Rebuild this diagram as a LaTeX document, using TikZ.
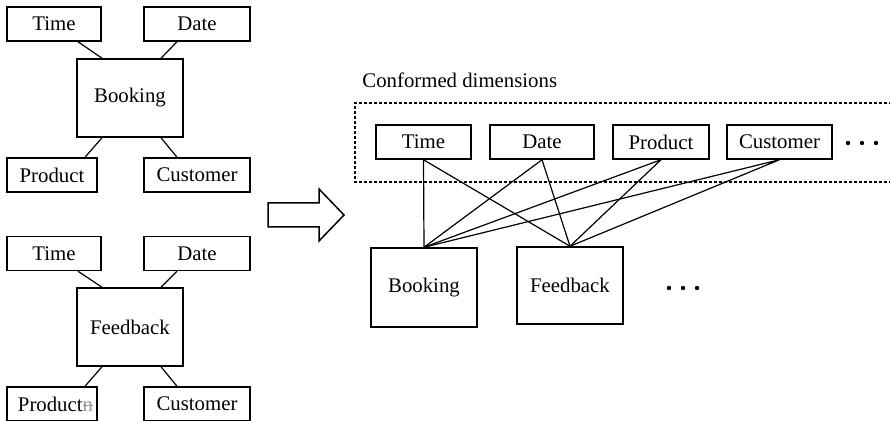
\documentclass[tikz,border=0pt]{standalone}
\usepackage{fontspec}
\setmainfont{Liberation Serif}
\usepackage{tikz}
\usetikzlibrary{positioning}
\tikzset{
  dimbox/.style={draw, line width=0.75pt, inner sep=0pt, minimum height=17pt},
  factbox/.style={draw, line width=0.75pt, inner sep=0pt},
  link/.style={line width=0.6pt},
  groupframe/.style={line width=0.6pt, dash pattern=on 1.5pt off 1pt},
}
\newcommand\crossedn{{\color{black!40}\rlap{n}\rule[0.55ex]{0.5em}{0.5pt}}}

\begin{document}
\begin{tikzpicture}[x=0.5pt, y=-0.5pt, font=\fontsize{10.4pt}{12.5pt}\selectfont]
\useasboundingbox (0,0) rectangle (890,421);

% star schema: Booking
\node[dimbox, minimum width=47pt] (btime) at (54,24) {Time};
\node[dimbox, minimum width=53pt] (bdate) at (197,24) {Date};
\node[factbox, minimum width=53pt, minimum height=39pt] (bfact) at (130,98) {Booking};
\node[dimbox, minimum width=45pt] (bprod) at (52,175) {Product};
\node[dimbox, minimum width=53pt] (bcust) at (197,175) {Customer};
\draw[link] ([xshift=12pt]btime.south) -- ([xshift=-14pt]bfact.north);
\draw[link] ([xshift=-10pt]bdate.south) -- ([xshift=15.5pt]bfact.north);
\draw[link] ([xshift=-14pt]bfact.south) -- ([xshift=16.5pt]bprod.north);
\draw[link] ([xshift=15.5pt]bfact.south) -- ([xshift=-10pt]bcust.north);

% star schema: Feedback
\node[dimbox, minimum width=47pt] (ftime) at (54,253.5) {Time};
\node[dimbox, minimum width=53pt] (fdate) at (197,253.5) {Date};
\node[factbox, minimum width=53pt, minimum height=39pt] (ffact) at (130,327) {Feedback};
\node[dimbox, minimum width=45pt] (fprod) at (52,404) {\hspace*{3.5pt}Product\crossedn};
\node[dimbox, minimum width=53pt] (fcust) at (197,404) {Customer};
\draw[link] ([xshift=12pt]ftime.south) -- ([xshift=-14pt]ffact.north);
\draw[link] ([xshift=-10pt]fdate.south) -- ([xshift=15.5pt]ffact.north);
\draw[link] ([xshift=-14pt]ffact.south) -- ([xshift=16.5pt]fprod.north);
\draw[link] ([xshift=15.5pt]ffact.south) -- ([xshift=-10pt]fcust.north);

% block arrow
\draw[line width=0.75pt] (268,203) -- (319,203) -- (319,189) -- (344,215)
  -- (319,241) -- (319,227) -- (268,227) -- cycle;

% conformed dimensions
\node[anchor=base west, inner sep=0pt] (title) at (362,88) {Conformed dimensions};
\draw[groupframe] (892,103) -| (355,182) -- (892,182);
\node[dimbox, minimum width=47.5pt] (rtime) at (423.5,142) {Time};
\node[dimbox, minimum width=52pt] (rdate) at (542,142) {Date};
\node[dimbox, minimum width=48pt] (rprod) at (661,142) {Product};
\node[dimbox, minimum width=52.5pt] (rcust) at (779.5,142) {Customer};
\foreach \dx in {-14,0,14} \fill (862+\dx,143) circle (1.1pt);

\node[factbox, minimum width=53pt, minimum height=39.5pt] (rbook) at (424,287.5) {Booking};
\node[factbox, minimum width=53pt, minimum height=38.5pt] (rfeed) at (570,285.5) {Feedback};
\foreach \dx in {-14,0,14} \fill (683+\dx,288) circle (1.1pt);

\foreach \d in {rtime,rdate,rprod,rcust}
  \draw[link] (\d.south) -- (rbook.north) (\d.south) -- (rfeed.north);
\end{tikzpicture}
\end{document}
